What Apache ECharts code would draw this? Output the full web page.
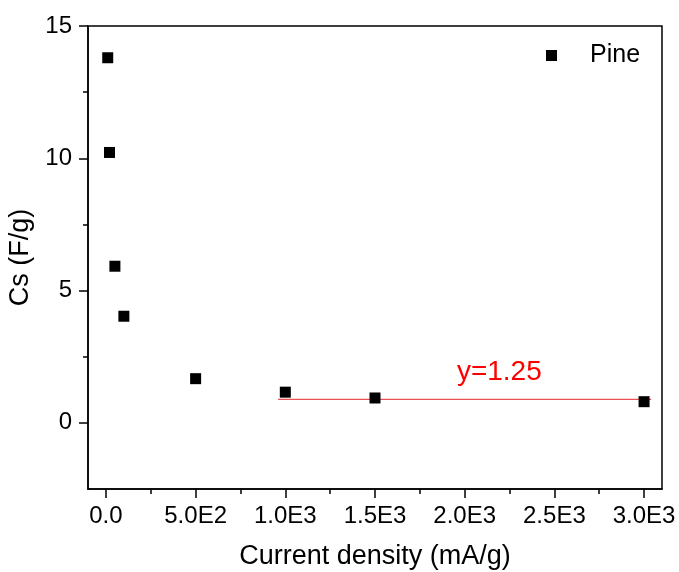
<!DOCTYPE html>
<html>
<head>
<meta charset="utf-8">
<script src="https://cdn.jsdelivr.net/npm/echarts@6/dist/echarts.min.js"></script>
<style>html,body{margin:0;padding:0;background:#fff}#c{width:679px;height:572px}</style>
</head>
<body>
<div id="c"></div>
<script>
const currentDensity = [10, 20, 50, 100, 500, 1000, 1500, 3000];
const capacitance = [13.8, 10.22, 5.92, 4.03, 1.67, 1.16, 0.94, 0.8];
const fitLineX = [960, 3040];
const fitLineY = [0.89, 0.89];
const fitLabel = 'y=1.25';
const xMajorTicks = [0, 500, 1000, 1500, 2000, 2500, 3000];
const xTickLabels = ['0.0', '5.0E2', '1.0E3', '1.5E3', '2.0E3', '2.5E3', '3.0E3'];
const xMinorTicks = [250, 750, 1250, 1750, 2250, 2750];
const yMajorTicks = [0, 5, 10, 15];
const yMinorTicks = [2.5, 7.5, 12.5];
const seriesName = 'Pine';

const FONT = 'Liberation Sans, Arial, sans-serif';
const chart = echarts.init(document.getElementById('c'));
const xBase = {type:'value', min:-100, max:3100, splitLine:{show:false}};
const yBase = {type:'value', min:-2.5, max:15, splitLine:{show:false}};
chart.setOption({
  animation:false,
  grid:{left:88, right:17, top:26, bottom:83, outerBoundsMode:'none', containLabel:false,
    show:true, borderColor:'#000', borderWidth:1.5, backgroundColor:'transparent'},
  legend:{data:[{name:seriesName, icon:'rect'}], left:546, top:43, padding:0, itemWidth:11, itemHeight:11,
    textStyle:{fontFamily:FONT, fontSize:25, color:'#000', padding:[0,0,0,28]}},
  xAxis:[
    Object.assign({}, xBase, {
      name:'Current density (mA/g)', nameLocation:'middle', nameGap:54,
      nameTextStyle:{fontFamily:FONT, fontSize:27, color:'#000'},
      axisLine:{show:true, onZero:false, lineStyle:{color:'#000', width:1.5}},
      axisTick:{show:true, length:9, customValues:xMajorTicks, lineStyle:{color:'#000', width:1.5}},
      axisLabel:{show:true, customValues:xMajorTicks, margin:15, fontFamily:FONT, fontSize:24, color:'#000',
        formatter:v=>xTickLabels[xMajorTicks.indexOf(v)]}
    }),
    Object.assign({}, xBase, {
      position:'bottom',
      axisLine:{show:false, onZero:false},
      axisTick:{show:true, length:5, customValues:xMinorTicks, lineStyle:{color:'#000', width:1.5}},
      axisLabel:{show:false}
    })
  ],
  yAxis:[
    Object.assign({}, yBase, {
      name:'Cs (F/g)', nameLocation:'middle', nameGap:45,
      nameTextStyle:{fontFamily:FONT, fontSize:27, color:'#000'},
      axisLine:{show:true, onZero:false, lineStyle:{color:'#000', width:1.5}},
      axisTick:{show:true, length:9, customValues:yMajorTicks, lineStyle:{color:'#000', width:1.5}},
      axisLabel:{show:true, customValues:yMajorTicks, margin:16, fontFamily:FONT, fontSize:24, color:'#000'}
    }),
    Object.assign({}, yBase, {
      position:'left',
      axisLine:{show:false, onZero:false},
      axisTick:{show:true, length:5, customValues:yMinorTicks, lineStyle:{color:'#000', width:1.5}},
      axisLabel:{show:false}
    })
  ],
  series:[
    {name:seriesName, type:'scatter', symbol:'rect', symbolSize:11, itemStyle:{color:'#000', opacity:1},
      data:currentDensity.map((x,i)=>[x, capacitance[i]]), z:5},
    {name:'fit', type:'line', symbol:'none', lineStyle:{color:'#e8262a', width:1},
      data:fitLineX.map((x,i)=>[x, fitLineY[i]]), z:3},
    {name:'fitLabel', type:'scatter', symbolSize:0, silent:true, itemStyle:{opacity:1},
      data:[[2193, 1.9]],
      label:{show:true, position:'inside', formatter:fitLabel, fontFamily:FONT, fontSize:28, color:'#ff0000', opacity:1}}
  ]
});
</script>
</body>
</html>
